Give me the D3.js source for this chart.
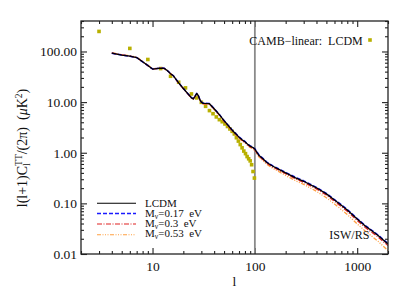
<!DOCTYPE html>
<html><head><meta charset="utf-8">
<script src="https://cdn.jsdelivr.net/npm/d3@7"></script>
<style>html,body{margin:0;padding:0;background:#fff}svg{display:block}</style>
</head><body>
<svg id="c" width="415" height="297"></svg>
<script>
const ells = [4,5,6,7,8,9,10,11,12,13,14,15,16,18,20,22,24,25,26,27,28,29,30,31,33,36,40,45,50,55,60,65,70,75,80,85,90,95,100,110,120,130,150,170,200,250,300,400,500,600,700,800,1000,1200,1400,1600,1800,2000];
const lcdm = [92.5,85,80.7,76,62.5,52.8,45,46,47,46.5,41.5,36.5,33,23.9,18.6,14.9,12.2,11.6,13,14.8,13.5,11.2,10,9.5,9.4,9.3,7.4,5.65,4.3,3.43,2.79,2.38,2.03,1.81,1.65,1.47,1.35,1.28,1.18,0.88,0.76,0.649,0.54,0.475,0.40,0.32,0.273,0.203,0.154,0.117,0.092,0.0743,0.049,0.0358,0.0285,0.0232,0.0189,0.0158];
const mnu017 = [92.3,85,80.5,76,62.6,52.9,45.2,46.2,47.1,46.8,41.8,36.8,33.2,24.1,18.8,15.0,12.3,11.7,13.1,14.9,13.6,11.3,10.1,9.6,9.5,9.4,7.5,5.7,4.35,3.47,2.82,2.41,2.06,1.84,1.67,1.49,1.37,1.30,1.20,0.90,0.775,0.662,0.552,0.485,0.408,0.327,0.279,0.207,0.157,0.119,0.094,0.0758,0.050,0.0365,0.0291,0.0237,0.0193,0.0161];
const mnu03 = [93,85.5,81,76,62.2,52.5,44.8,45.7,46.6,46.1,41.1,36.1,32.6,23.6,18.4,14.7,12.0,11.4,12.8,14.6,13.3,11.0,9.85,9.35,9.25,9.15,7.27,5.55,4.22,3.36,2.73,2.33,1.98,1.77,1.61,1.43,1.31,1.24,1.14,0.85,0.735,0.627,0.52,0.457,0.384,0.306,0.261,0.193,0.146,0.110,0.0865,0.0697,0.0459,0.0335,0.0266,0.0216,0.0176,0.0147];
const mnu053 = [95,87,82.5,77.5,63.8,53.9,46,46.8,47.8,47.2,42,36.8,33.2,24,18.6,14.8,12.1,11.4,12.8,14.5,13.2,10.9,9.75,9.25,9.1,9.0,7.15,5.45,4.15,3.3,2.68,2.27,1.93,1.71,1.56,1.38,1.27,1.2,1.1,0.82,0.70,0.595,0.49,0.428,0.355,0.28,0.237,0.173,0.129,0.097,0.0755,0.0602,0.0392,0.0283,0.0222,0.0178,0.0142,0.0117];
const cambL = [3,6,9,12,15,18,21,24,27,30,33,36,39,42,45,48,51,54,57,60,63,66,69,72,75,78,81,84,87,90,93,96,99];
const cambV = [249,115,69.5,46,32.4,24.7,19.1,14.5,12.1,9.9,8.26,6.8,5.9,5.1,4.5,4.1,3.7,3.3,2.95,2.65,2.35,1.98,1.7,1.45,1.25,1.08,0.96,0.84,0.76,0.69,0.58,0.426,0.316];
const xMajor = [10,100,1000];
const xMajorLabels = ["10","100","1000"];
const yMajor = [0.01,0.1,1,10,100];
const yMajorLabels = ["0.01","0.10","1.00","10.00","100.00"];
const seriesNames = ["LCDM","0.17","0.3","0.53"];

const L=81,R=388,T=21,B=254;
const FONT = "'Liberation Serif','Times New Roman',serif";
const svg = d3.select("#c");
const x = d3.scaleLog().domain([2,2000]).range([L,R]);
const y = d3.scaleLog().domain([0.01,400]).range([B,T]);

const xMinor=[], yMinor=[];
[1,10,100,1000].forEach(d=>{for(let k=2;k<=9;k++){const v=d*k; if(v>=2&&v<=2000) xMinor.push(v);}});
[0.01,0.1,1,10,100].forEach(d=>{for(let k=2;k<=9;k++){const v=+(d*k).toPrecision(3); if(v<=400) yMinor.push(v);}});

const axisCol="#222";
function ax(gen, tx, ty, vals, size){
  const g = svg.append("g").attr("transform",`translate(${tx},${ty})`).call(gen.tickValues(vals).tickSizeInner(size).tickSizeOuter(0));
  g.select(".domain").remove();
  g.selectAll("line").attr("stroke",axisCol).attr("stroke-width",1.1);
  g.selectAll("text").attr("font-family",FONT).attr("font-size",13.5).attr("fill","#111");
  return g;
}
ax(d3.axisBottom(x).tickFormat(()=>""), 0, B, xMinor, -3);
ax(d3.axisBottom(x).tickFormat((d,i)=>xMajorLabels[i]).tickPadding(7), 0, B, xMajor, -6);
ax(d3.axisTop(x).tickFormat(()=>""), 0, T, xMinor, -3);
ax(d3.axisTop(x).tickFormat(()=>""), 0, T, xMajor, -6);
ax(d3.axisLeft(y).tickFormat(()=>""), L, 0, yMinor, -3);
ax(d3.axisLeft(y).tickFormat((d,i)=>yMajorLabels[i]).tickPadding(4), L, 0, yMajor, -6);
ax(d3.axisRight(y).tickFormat(()=>""), R, 0, yMinor, -3);
ax(d3.axisRight(y).tickFormat(()=>""), R, 0, yMajor, -6);

svg.append("line").attr("x1",x(100)).attr("x2",x(100)).attr("y1",T).attr("y2",B)
  .attr("stroke","#8a8a8a").attr("stroke-width",1.8);

svg.append("g").selectAll("rect").data(cambL).join("rect")
  .attr("x",(d)=>x(d)-1.8).attr("y",(d,i)=>y(cambV[i])-1.8).attr("width",3.6).attr("height",3.6)
  .attr("fill","#b8b000");

const styles = {
  "LCDM":{c:"#000000",dash:null,w:1.3},
  "0.17":{c:"#1a1aff",dash:"4,2",w:1.5},
  "0.3":{c:"#e02020",dash:"5,1.5,1,1.5",w:1.3},
  "0.53":{c:"#ffa040",dash:"4,1.5,1,1.5,1,1.5,1,1.5",w:1.3}
};
const seriesData = {"LCDM":lcdm,"0.17":mnu017,"0.3":mnu03,"0.53":mnu053};
const line = d3.line().x(d=>x(d[0])).y(d=>y(d[1]));
svg.append("clipPath").attr("id","pc").append("rect").attr("x",L).attr("y",T).attr("width",R-L).attr("height",B-T);
["0.53","0.3","0.17","LCDM"].forEach(k=>{
  const s=styles[k];
  svg.append("path").attr("clip-path","url(#pc)")
    .attr("d",line(ells.map((l,i)=>[l,seriesData[k][i]])))
    .attr("fill","none").attr("stroke",s.c).attr("stroke-width",s.w)
    .attr("stroke-dasharray",s.dash).attr("stroke-linejoin","round");
});

svg.append("rect").attr("x",L).attr("y",T).attr("width",R-L).attr("height",B-T)
  .attr("fill","none").attr("stroke",axisCol).attr("stroke-width",1.3);

const legY=[203.3,213.5,224,234.8];
const legBase=[206.8,216.6,226.8,237.2];
seriesNames.forEach((k,i)=>{
  const s=styles[k];
  svg.append("line").attr("x1",97).attr("x2",136).attr("y1",legY[i]).attr("y2",legY[i])
    .attr("stroke",s.c).attr("stroke-width",s.w-0.2).attr("stroke-dasharray",s.dash);
  const t=svg.append("text").attr("x",145).attr("y",legBase[i]).attr("font-family",FONT).attr("font-size",11).attr("fill","#111");
  if(k==="LCDM"){ t.text("LCDM"); }
  else {
    t.append("tspan").text("M");
    t.append("tspan").attr("dy",2).attr("font-size",7.5).text("ν");
    t.append("tspan").attr("dy",-2).text("=" + k + "\u00a0\u00a0eV");
  }
});

svg.append("text").attr("x",249.3).attr("y",44.5).attr("font-family",FONT).attr("font-size",12).attr("fill","#111")
  .text("CAMB\u2212linear:\u00a0\u00a0LCDM");
svg.append("rect").attr("x",368.2).attr("y",38.2).attr("width",3.6).attr("height",3.6).attr("fill","#b8b000");
svg.append("text").attr("x",329.3).attr("y",238.5).attr("font-family",FONT).attr("font-size",12).attr("fill","#111").text("ISW/RS");

svg.append("text").attr("x",(L+R)/2).attr("y",286).attr("text-anchor","middle").attr("font-family",FONT).attr("font-size",13.5).attr("fill","#111").text("l");

const yl = svg.append("text").attr("transform","translate(27,148) rotate(-90)").attr("text-anchor","middle")
  .attr("font-family",FONT).attr("font-size",14).attr("fill","#111");
yl.append("tspan").text("l(l+1)C");
yl.append("tspan").attr("font-size",9.5).attr("dy",3).text("l");
yl.append("tspan").attr("font-size",9.5).attr("dx",-2.6).attr("dy",-8.5).text("TT");
yl.append("tspan").attr("dy",5.5).text("/(2π)\u00a0\u00a0(");
yl.append("tspan").attr("font-style","italic").text("μ");
yl.append("tspan").text("K");
yl.append("tspan").attr("font-size",9.5).attr("dy",-5).text("2");
yl.append("tspan").attr("dy",5).text(")");
</script>
</body></html>
